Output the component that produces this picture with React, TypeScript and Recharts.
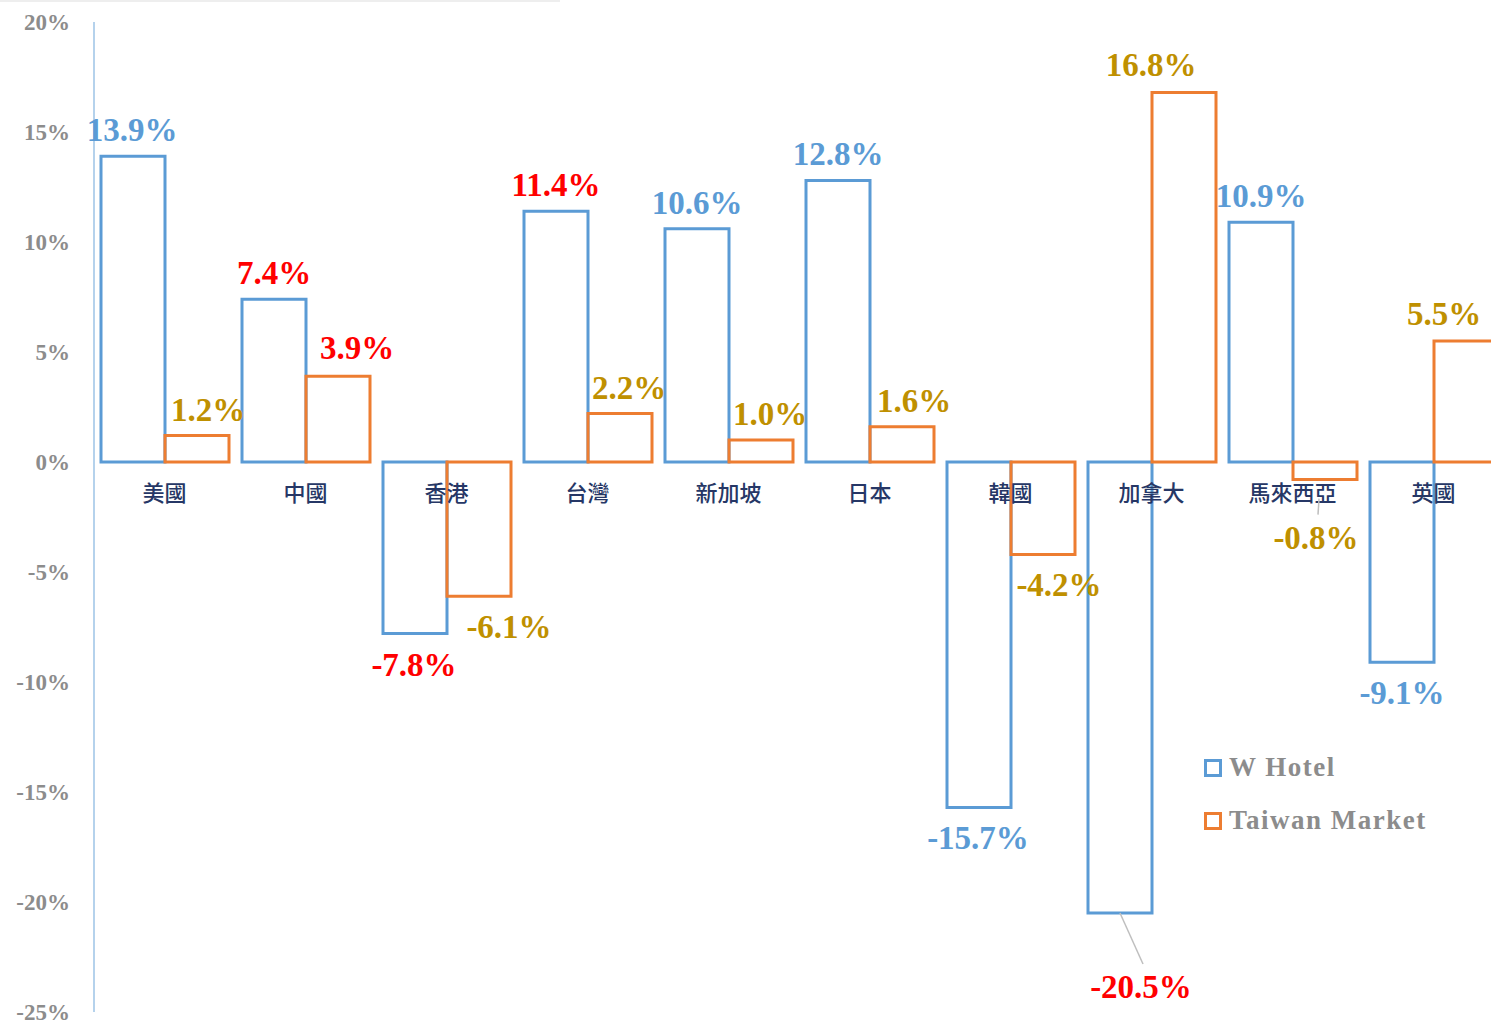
import { ComposedChart, Bar, Line, XAxis, YAxis, LabelList, Legend } from "recharts";

const categories = ["美國", "中國", "香港", "台灣", "新加坡", "日本", "韓國", "加拿大", "馬來西亞", "英國"];
const wHotel = [13.9, 7.4, -7.8, 11.4, 10.6, 12.8, -15.7, -20.5, 10.9, -9.1];
const taiwanMarket = [1.2, 3.9, -6.1, 2.2, 1.0, 1.6, -4.2, 16.8, -0.8, 5.5];
const yTicks = [-25, -20, -15, -10, -5, 0, 5, 10, 15, 20];
// labels the source highlights in red
const wHotelRed = [1, 2, 3, 7];
const taiwanRed = [1];

const data = categories.map((name, i) => ({ name, wHotel: wHotel[i], taiwan: taiwanMarket[i] }));

const BLUE = "#5B9BD5";
const ORANGE = "#ED7D31";
const RED = "#FF0000";
const GOLD = "#BF9000";
const SERIF = "'Times New Roman', 'Liberation Serif', serif";

// hand-placed label offsets [dx, dy, leader start skip]
const wNudge = [[-1, 0], [0, 0], [-1, 0], [0, 0], [0, 0], [0, 0], [-1, 0], [21, 43, 0], [0, 0], [0, 0]];
const tNudge = [[11, 0], [19, -2], [30, 0], [9, 0], [9, 0], [12, 0], [16, 0], [-33, -1], [-9, 27, 19], [-22, -1]];

const makeValueLabel = (values: number[], red: number[], base: string, nudge: number[][]) => (props: any) => {
  const index = props.index;
  if (index == null) return null;
  const vb = props.viewBox || props;
  const v = values[index];
  const top = Math.min(vb.y, vb.y + vb.height);
  const bottom = Math.max(vb.y, vb.y + vb.height);
  const cx = vb.x + vb.width / 2;
  const [dx, dy, skip] = nudge[index];
  const lx = cx + dx;
  const ly = v >= 0 ? top - 26 + dy : bottom + 31 + dy;
  const edge = v >= 0 ? top : bottom;
  return (
    <g>
      {skip !== undefined && (
        <line x1={cx - (skip ? 6 : 0)} y1={edge + skip} x2={lx + 2} y2={ly - 23} stroke="#bfbfbf" strokeWidth={1.5} />
      )}
      <text
        x={lx}
        y={ly}
        textAnchor="middle"
        dominantBaseline="central"
        fontFamily={SERIF}
        fontWeight="bold"
        fontSize={33}
        fill={red.includes(index) ? RED : base}
      >
        {`${v.toFixed(1)}%`}
      </text>
    </g>
  );
};

const CategoryLabel = (props: any) => {
  const vb = props.viewBox || props;
  return (
    <text
      x={vb.x}
      y={vb.y + 29}
      textAnchor="middle"
      dominantBaseline="central"
      fontFamily="'Noto Sans CJK TC', sans-serif"
      fontWeight={500}
      fontSize={22}
      fill="#263766"
    >
      {props.value}
    </text>
  );
};

const legendItems = [
  { label: "W Hotel", color: BLUE },
  { label: "Taiwan Market", color: ORANGE },
];

const renderLegend = () => (
  <div style={{ fontFamily: SERIF, fontWeight: "bold", fontSize: 27, color: "#8c8c8c" }}>
    {legendItems.map((it) => (
      <div key={it.label} style={{ display: "flex", alignItems: "center", height: 53 }}>
        <span
          style={{
            display: "inline-block",
            width: 12,
            height: 12,
            border: `3px solid ${it.color}`,
            marginRight: 7,
          }}
        />
        <span style={{ letterSpacing: 1.5 }}>{it.label}</span>
      </div>
    ))}
  </div>
);

export default function App() {
  return (
    <div
      style={{
        position: "absolute",
        left: 0,
        top: 0,
        width: 1491,
        height: 1023,
        overflow: "hidden",
        background: "#fff",
      }}
    >
      <div style={{ position: "absolute", left: 0, top: 0, width: 560, height: 2, background: "#eeeeee" }} />
      <ComposedChart
        width={1520}
        height={1023}
        data={data}
        margin={{ top: 22, right: 16, bottom: 11, left: 0 }}
        barCategoryGap={7}
        barGap={0}
      >
        <XAxis dataKey="name" hide />
        <YAxis
          domain={[-25, 20]}
          ticks={yTicks}
          interval={0}
          allowDataOverflow
          width={94}
          tickFormatter={(v) => `${v}%`}
          axisLine={{ stroke: "#9DC3E6", strokeWidth: 1.5 }}
          tickLine={false}
          tickSize={0}
          tickMargin={24}
          tick={{ fill: "#8c8c8c", fontSize: 23, fontFamily: SERIF, fontWeight: "bold" }}
        />
        <Line
          dataKey={() => 0}
          stroke="none"
          dot={false}
          activeDot={false}
          legendType="none"
          isAnimationActive={false}
        >
          <LabelList dataKey="name" content={CategoryLabel} />
        </Line>
        <Bar dataKey="wHotel" name="W Hotel" fill="none" stroke={BLUE} strokeWidth={3} isAnimationActive={false}>
          <LabelList dataKey="wHotel" content={makeValueLabel(wHotel, wHotelRed, BLUE, wNudge)} />
        </Bar>
        <Bar dataKey="taiwan" name="Taiwan Market" fill="none" stroke={ORANGE} strokeWidth={3} isAnimationActive={false}>
          <LabelList dataKey="taiwan" content={makeValueLabel(taiwanMarket, taiwanRed, GOLD, tNudge)} />
        </Bar>
        <Legend
          layout="vertical"
          align="center"
          verticalAlign="middle"
          content={renderLegend}
          wrapperStyle={{ left: 1204, top: 741, width: "auto" }}
        />
      </ComposedChart>
    </div>
  );
}
